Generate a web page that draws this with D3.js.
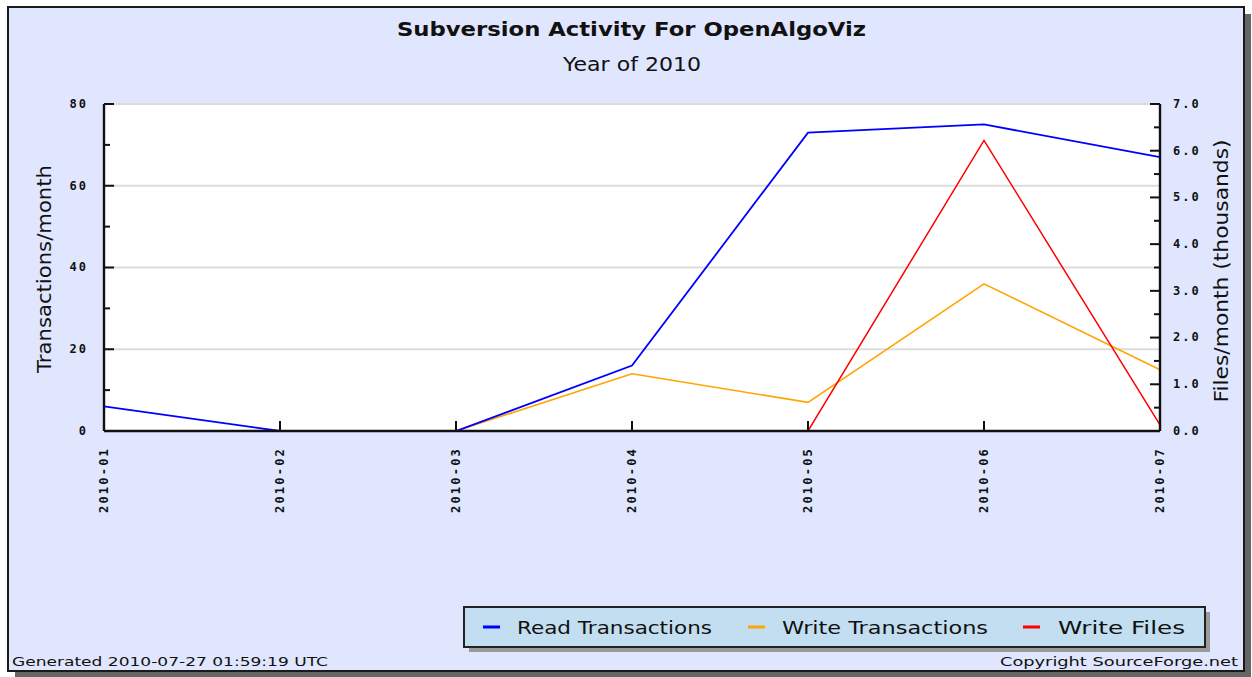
<!DOCTYPE html>
<html>
<head>
<meta charset="utf-8">
<script src="https://cdn.jsdelivr.net/npm/d3@7"></script>
<style>
  html, body { margin: 0; padding: 0; background: #ffffff; }
  svg { display: block; }
  text { font-family: "DejaVu Sans", sans-serif; fill: #111; }
  .tick text { font-family: "DejaVu Sans Mono", monospace; font-weight: bold; font-size: 12px; }
</style>
</head>
<body>
<svg id="chart" width="1252" height="677"></svg>
<script>
// ---- data ----
const months = ["2010-01", "2010-02", "2010-03", "2010-04", "2010-05", "2010-06", "2010-07"];
const readTransactions = [6, 0, 0, 16, 73, 75, 67];
const writeTransactions = [0, 0, 0, 14, 7, 36, 15];
const writeFiles = [0, 0, 0, 0, 0, 6.22, 0.13]; // thousands
const leftTicks = [0, 20, 40, 60, 80];
const leftMinorTicks = [10, 30, 50, 70];
const rightTicks = [0, 1, 2, 3, 4, 5, 6, 7];
const rightMinorTicks = [0.5, 1.5, 2.5, 3.5, 4.5, 5.5, 6.5];
const seriesNames = ["Read Transactions", "Write Transactions", "Write Files"];
const seriesColors = ["#0000ff", "#ffa500", "#ff0000"];

const svg = d3.select("#chart");

// frame with shadow
svg.append("rect").attr("x", 15).attr("y", 14).attr("width", 1236).attr("height", 664).attr("fill", "#666");
svg.append("rect").attr("x", 8).attr("y", 7).attr("width", 1236).attr("height", 664)
  .attr("fill", "#dfe6fd").attr("stroke", "#1a1a1a").attr("stroke-width", 2);

// plot area
const L = 104, R = 1160, T = 104, B = 431;
svg.append("rect").attr("x", L).attr("y", T).attr("width", R - L).attr("height", B - T).attr("fill", "#ffffff");

const x = d3.scalePoint().domain(months).range([L, R]);
const yL = d3.scaleLinear().domain([0, 80]).range([B, T]);
const yR = d3.scaleLinear().domain([0, 7]).range([B, T]);

// gridlines
svg.append("g").selectAll("line").data(leftTicks.filter(d => d > 0)).join("line")
  .attr("x1", L).attr("x2", R).attr("y1", d => yL(d)).attr("y2", d => yL(d))
  .attr("stroke", "#dcdcdc").attr("stroke-width", 2);

// lines
const lineL = d3.line().x((d, i) => x(months[i])).y(d => yL(d));
const lineR = d3.line().x((d, i) => x(months[i])).y(d => yR(d));
svg.append("path").attr("d", lineL(writeTransactions)).attr("fill", "none")
  .attr("stroke", seriesColors[1]).attr("stroke-width", 1.6);
svg.append("path").attr("d", lineL(readTransactions)).attr("fill", "none")
  .attr("stroke", seriesColors[0]).attr("stroke-width", 1.8);
svg.append("path").attr("d", lineR(writeFiles)).attr("fill", "none")
  .attr("stroke", seriesColors[2]).attr("stroke-width", 1.5);

// axes
function styleAxis(g) {
  g.selectAll(".domain").attr("stroke", "#111").attr("stroke-width", 2.4);
  g.selectAll(".tick line").attr("stroke", "#111").attr("stroke-width", 2);
}
const gL = svg.append("g").attr("transform", `translate(${L},0)`)
  .call(d3.axisLeft(yL).offset(0).tickValues(leftTicks).tickSize(-10).tickSizeOuter(0).tickPadding(16).tickFormat(d3.format("d")));
styleAxis(gL);
gL.selectAll(".tick text").attr("letter-spacing", "2px").attr("font-size", 13);
const gLm = svg.append("g").attr("transform", `translate(${L},0)`)
  .call(d3.axisLeft(yL).offset(0).tickValues(leftMinorTicks).tickSize(-6).tickSizeOuter(0).tickFormat(""));
styleAxis(gLm); gLm.select(".domain").remove();

const gR = svg.append("g").attr("transform", `translate(${R},0)`)
  .call(d3.axisRight(yR).offset(0).tickValues(rightTicks).tickSize(-10).tickSizeOuter(0).tickPadding(13).tickFormat(d3.format(".1f")));
styleAxis(gR);
gR.selectAll(".tick text").attr("letter-spacing", "2px").attr("font-size", 13);
const gRm = svg.append("g").attr("transform", `translate(${R},0)`)
  .call(d3.axisRight(yR).offset(0).tickValues(rightMinorTicks).tickSize(-6).tickSizeOuter(0).tickFormat(""));
styleAxis(gRm); gRm.select(".domain").remove();

const gB = svg.append("g").attr("transform", `translate(0,${B})`)
  .call(d3.axisBottom(x).offset(0).tickSize(-10).tickSizeOuter(0).tickPadding(0));
styleAxis(gB);
gB.selectAll(".tick text")
  .attr("text-anchor", "end")
  .attr("letter-spacing", "2.2px")
  .attr("font-size", 13)
  .attr("transform", "translate(0,16) rotate(-90)")
  .attr("x", 0).attr("y", 0).attr("dy", "0.35em");

// titles
svg.append("text").attr("x", 631.5).attr("y", 36).attr("text-anchor", "middle")
  .attr("font-size", 20).attr("font-weight", "bold")
  .attr("textLength", 469).attr("lengthAdjust", "spacingAndGlyphs")
  .text("Subversion Activity For OpenAlgoViz");
svg.append("text").attr("x", 632).attr("y", 71).attr("text-anchor", "middle")
  .attr("font-size", 20)
  .attr("textLength", 138).attr("lengthAdjust", "spacingAndGlyphs")
  .text("Year of 2010");

svg.append("text").attr("transform", "translate(51,269) rotate(-90)").attr("text-anchor", "middle")
  .attr("font-size", 19).attr("textLength", 208).attr("lengthAdjust", "spacingAndGlyphs")
  .text("Transactions/month");
svg.append("text").attr("transform", "translate(1228,271) rotate(-90)").attr("text-anchor", "middle")
  .attr("font-size", 19).attr("textLength", 263).attr("lengthAdjust", "spacingAndGlyphs")
  .text("Files/month (thousands)");

// legend
svg.append("rect").attr("x", 469).attr("y", 612).attr("width", 741).attr("height", 40).attr("fill", "#9a9a9a");
svg.append("rect").attr("x", 464).attr("y", 607).attr("width", 741).attr("height", 40)
  .attr("fill", "#c2def0").attr("stroke", "#222").attr("stroke-width", 2);
const legendDash = [483, 748, 1023];
const legendText = [[517, 195], [782, 206], [1058, 127]];
seriesNames.forEach((name, i) => {
  svg.append("line").attr("x1", legendDash[i]).attr("x2", legendDash[i] + 17)
    .attr("y1", 627).attr("y2", 627).attr("stroke", seriesColors[i]).attr("stroke-width", 3);
  svg.append("text").attr("x", legendText[i][0]).attr("y", 634)
    .attr("font-size", 18).attr("textLength", legendText[i][1]).attr("lengthAdjust", "spacingAndGlyphs")
    .text(name);
});

// footers
svg.append("text").attr("x", 12).attr("y", 666).attr("font-family", "DejaVu Sans Mono")
  .attr("font-size", 13).attr("textLength", 316).attr("lengthAdjust", "spacingAndGlyphs")
  .text("Generated 2010-07-27 01:59:19 UTC");
svg.append("text").attr("x", 1000).attr("y", 666).attr("font-family", "DejaVu Sans Mono")
  .attr("font-size", 13).attr("textLength", 238).attr("lengthAdjust", "spacingAndGlyphs")
  .text("Copyright SourceForge.net");
</script>
</body>
</html>
